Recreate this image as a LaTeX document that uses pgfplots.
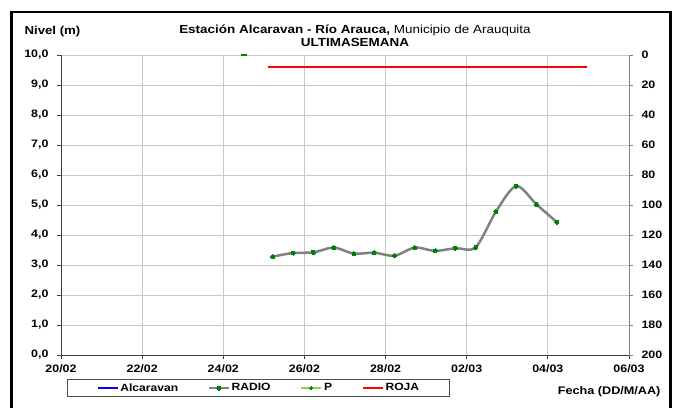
\documentclass[border=0pt]{standalone}
\usepackage{pgfplots}
\pgfplotsset{compat=1.18}
\usepackage{fontspec}
\setmainfont{Liberation Sans}[FakeStretch=1.15]

\definecolor{gridc}{HTML}{C8C8C8}
\definecolor{axisc}{HTML}{404040}
\definecolor{radioc}{HTML}{808080}
\definecolor{dgreen}{HTML}{008000}
\definecolor{lgreen}{HTML}{92D050}

\begin{document}
\begin{tikzpicture}[x=1pt,y=1pt]
\useasboundingbox (0,0) rectangle (677,407);
% outer frame
\draw[line width=2.5pt] (11.5,-10) rectangle (670.5,395);

\node[anchor=base west, font=\bfseries\fontsize{11.5}{13}\selectfont] at (21,372) {Nivel (m)};
\node[anchor=base, font=\fontsize{11.7}{13}\selectfont] at (355,373.5)
  {\textbf{Estación Alcaravan - Río Arauca,} Municipio de Arauquita};
\node[anchor=base, font=\bfseries\fontsize{11.7}{13}\selectfont] at (355,360) {ULTIMASEMANA};
\node[anchor=base east, font=\bfseries\fontsize{11}{13}\selectfont] at (664,13) {Fecha (DD/M/AA)};

% nivel (left axis)
\begin{axis}[
    at={(61pt,52pt)}, anchor=south west,
    scale only axis, width=568pt, height=300pt,
    xmin=0, xmax=14, ymin=0, ymax=10,
    xtick={0,2,...,14},
    xticklabels={20/02,22/02,24/02,26/02,28/02,02/03,04/03,06/03},
    ytick={0,1,...,10},
    yticklabel style={/pgf/number format/fixed, /pgf/number format/fixed zerofill,
        /pgf/number format/precision=1, /pgf/number format/use comma,
        /pgf/number format/assume math mode=true, xshift=-5pt},
    xticklabel style={yshift=-2pt},
    ticklabel style={font=\bfseries\fontsize{10.8}{12}\selectfont},
    grid=major, major grid style={gridc, line width=0.8pt},
    axis x line*=bottom, axis y line*=left,
    axis line style={-, draw=axisc, line width=0.9pt},
    tick align=outside, major tick length=4pt,
    tick style={axisc, line width=0.8pt},
    legend columns=4,
    legend image code/.code={\draw[#1,mark repeat=2,mark phase=2] plot coordinates {(0pt,0pt) (10pt,0pt) (20pt,0pt)};},
    legend style={at={(rel axis cs:0.0106,-0.14)}, anchor=south west,
        draw=black!70, line width=0.8pt,
        font=\bfseries\fontsize{10.5}{11}\selectfont,
        inner xsep=29pt, inner ysep=2pt,
        nodes={inner xsep=1.5pt, inner ysep=2pt},
        /tikz/every even column/.append style={column sep=28pt}},
]
\addlegendimage{blue, line width=2.5pt}
\addlegendentry{Alcaravan}

\addplot[radioc, line width=2.5pt, smooth, mark=*, mark size=2pt,
    mark options={fill=dgreen, draw=dgreen, line width=0pt}] coordinates {
    (5.22,3.28) (5.72,3.40) (6.22,3.42) (6.72,3.58) (7.22,3.38)
    (7.72,3.41) (8.22,3.31) (8.72,3.58) (9.22,3.47) (9.72,3.56)
    (10.22,3.59) (10.72,4.78) (11.22,5.63) (11.72,5.02) (12.22,4.43)
};
\addlegendentry{RADIO}

\addlegendimage{lgreen, line width=2.5pt, mark=*, mark size=1.6pt, mark options={fill=dgreen, draw=dgreen, line width=0pt}}
\addlegendentry{P}

\addplot[red, line width=2.5pt] coordinates {(5.10,9.6) (12.97,9.6)};
\addlegendentry{ROJA}
\end{axis}

% precipitacion (right axis, reversed)
\begin{axis}[
    at={(61pt,52pt)}, anchor=south west,
    scale only axis, width=568pt, height=300pt,
    xmin=0, xmax=14, ymin=0, ymax=200, y dir=reverse,
    axis x line=none, axis y line*=right,
    ytick={0,20,...,200},
    yticklabel style={/pgf/number format/assume math mode=true, xshift=5pt},
    ticklabel style={font=\bfseries\fontsize{10.8}{12}\selectfont},
    axis line style={-, draw=radioc, line width=0.9pt},
    tick align=outside, major tick length=4pt,
    tick style={radioc, line width=0.8pt},
    clip=false,
]
\addplot[only marks, mark=-, mark size=3pt, mark options={dgreen, line width=2pt}] coordinates {(4.51,0)};
\end{axis}
\end{tikzpicture}
\end{document}
